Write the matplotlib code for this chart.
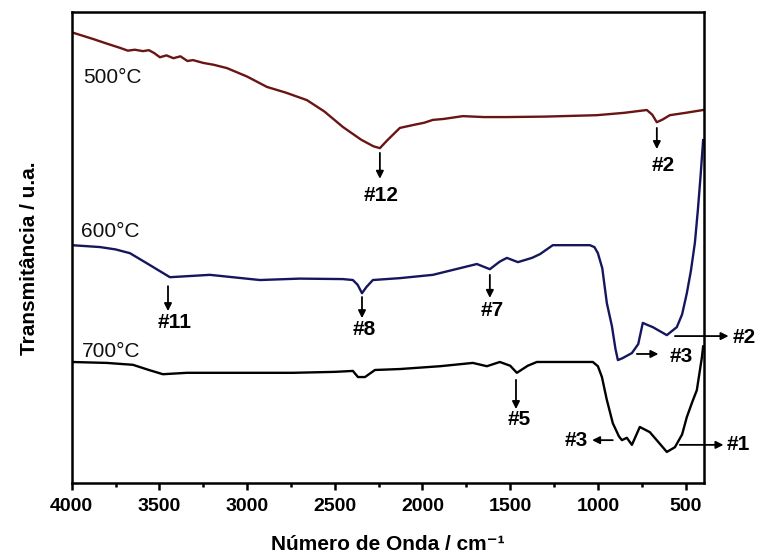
import matplotlib
matplotlib.use("Agg")
import matplotlib.pyplot as plt

plt.rcParams['font.family'] = ['Liberation Sans', 'DejaVu Sans']

# FTIR spectra (transmittance, arbitrary units) of the samples calcined at each temperature
wn_500 = [4000, 3880, 3800, 3725, 3680, 3640, 3594, 3560, 3530, 3497, 3460, 3420, 3380,
          3340, 3309, 3250, 3190, 3115, 3000, 2887, 2780, 2659, 2560, 2454, 2350, 2280,
          2243, 2200, 2129, 2055, 1990, 1941, 1880, 1770, 1650, 1519, 1300, 1006, 850,
          721, 690, 664, 630, 590, 500, 400]
t_500 = [95.7, 94.3, 93.3, 92.4, 91.8, 92.0, 91.7, 91.9, 91.3, 90.4, 90.8, 90.2, 90.6,
         89.6, 89.8, 89.2, 88.8, 88.1, 86.3, 84.1, 82.9, 81.3, 78.9, 75.6, 72.9, 71.5,
         71.1, 72.8, 75.4, 76.0, 76.5, 77.1, 77.3, 77.9, 77.7, 77.7, 77.8, 78.1, 78.6,
         79.2, 78.2, 76.6, 77.2, 78.1, 78.6, 79.2]

wn_600 = [4000, 3839, 3750, 3668, 3560, 3440, 3212, 2927, 2700, 2454, 2397, 2370, 2345,
          2320, 2283, 2129, 1941, 1690, 1616, 1560, 1519, 1456, 1376, 1330, 1257, 1046,
          1020, 1000, 975, 949, 920, 900, 886, 860, 806, 770, 744, 720, 687, 607, 550,
          520, 493, 470, 447, 430, 415, 400]
t_600 = [50.5, 50.1, 49.6, 48.8, 46.4, 43.7, 44.2, 43.1, 43.4, 43.3, 43.1, 42.1, 40.3,
         41.6, 43.1, 43.5, 44.2, 46.5, 45.4, 47.0, 47.8, 46.9, 47.8, 48.6, 50.5, 50.5,
         50.1, 48.8, 45.6, 38.2, 33.3, 28.5, 26.1, 26.5, 27.6, 29.5, 34.0, 33.6, 33.1,
         31.4, 33.1, 35.8, 40.3, 45.0, 51.0, 58.0, 65.0, 72.8]

wn_700 = [4000, 3800, 3651, 3560, 3480, 3343, 3000, 2739, 2500, 2397, 2368, 2328, 2271,
          2129, 1900, 1713, 1633, 1559, 1500, 1462, 1400, 1348, 1200, 1029, 1000, 977,
          950, 915, 880, 863, 835, 806, 761, 704, 660, 607, 561, 520, 493, 460, 436,
          407, 400]
t_700 = [25.7, 25.5, 25.1, 24.0, 23.1, 23.4, 23.4, 23.4, 23.6, 23.8, 22.5, 22.5, 24.0,
         24.2, 24.8, 25.5, 24.8, 25.7, 24.9, 23.4, 24.9, 25.7, 25.7, 25.7, 24.8, 22.5,
         17.8, 12.7, 9.9, 9.1, 9.6, 8.1, 11.9, 10.8, 8.9, 6.6, 7.6, 10.3, 14.0, 17.4,
         19.7, 26.7, 29.0]

series = [
    ("500°C", wn_500, t_500, "#6a1414"),
    ("600°C", wn_600, t_600, "#16165e"),
    ("700°C", wn_700, t_700, "#000000"),
]

# Curve captions: (text, wavenumber, transmittance)
captions = [("500°C", 3936, 86.2), ("600°C", 3947, 53.5), ("700°C", 3941, 28.0)]

# Band assignments: label, arrow tail, arrow tip, text anchor, alignment
bands = [
    ("#12", (2243, 70.1), (2243, 64.6), (2237, 61.1), "center"),
    ("#2",  (664, 75.4),  (664, 70.9),  (630, 67.5),  "center"),
    ("#11", (3451, 41.8), (3451, 36.5), (3411, 34.0), "center"),
    ("#8",  (2345, 39.5), (2345, 35.0), (2334, 32.5), "center"),
    ("#7",  (1616, 44.2), (1616, 39.3), (1604, 36.7), "center"),
    ("#5",  (1467, 21.9), (1467, 15.7), (1450, 13.4), "center"),
    ("#3",  (778, 27.4),  (655, 27.4),  (590, 26.8),  "left"),
    ("#2",  (561, 31.2),  (255, 31.2),  (231, 30.9),  "left"),
    ("#3",  (915, 9.1),   (1033, 9.1),  (1057, 9.1),  "right"),
    ("#1",  (533, 8.1),   (284, 8.1),   (265, 8.1),   "left"),
]

fig = plt.figure(figsize=(7.62, 5.55), dpi=100)
ax = fig.add_axes([0.0941, 0.1297, 0.8298, 0.8486])

for name, wn, t, color in series:
    ax.plot(wn, t, color=color, lw=1.7, solid_joinstyle='round')

for text, x, y in captions:
    ax.text(x, y, text, fontsize=15, ha='left', va='center', color='#111111')

for label, tail, tip, pos, ha in bands:
    ax.annotate('', xy=tip, xytext=tail, annotation_clip=False,
                arrowprops=dict(arrowstyle='-|>', color='black', lw=1.3,
                                mutation_scale=11, shrinkA=0, shrinkB=0))
    ax.text(pos[0], pos[1], label, fontsize=15, fontweight='bold', ha=ha,
            va='center', clip_on=False)

ax.set_xlim(4000, 395)
ax.set_ylim(0, 100)
ax.set_xticks([4000, 3500, 3000, 2500, 2000, 1500, 1000, 500])
ax.set_xticks([3750, 3250, 2750, 2250, 1750, 1250, 750], minor=True)
ax.set_yticks([])
ax.tick_params(axis='x', which='major', direction='out', length=5, width=1.8,
               pad=6, labelsize=14)
ax.tick_params(axis='x', which='minor', direction='out', length=3, width=1.8)
for lab in ax.get_xticklabels():
    lab.set_fontweight('bold')
for sp in ax.spines.values():
    sp.set_linewidth(1.8)

ax.set_xlabel("Número de Onda / cm⁻¹", fontsize=15, fontweight='bold', labelpad=14)
ax.set_ylabel("Transmitância / u.a.", fontsize=15, fontweight='bold')
ax.yaxis.set_label_coords(-0.052, 0.478)

fig.savefig("out.png", dpi=100)
